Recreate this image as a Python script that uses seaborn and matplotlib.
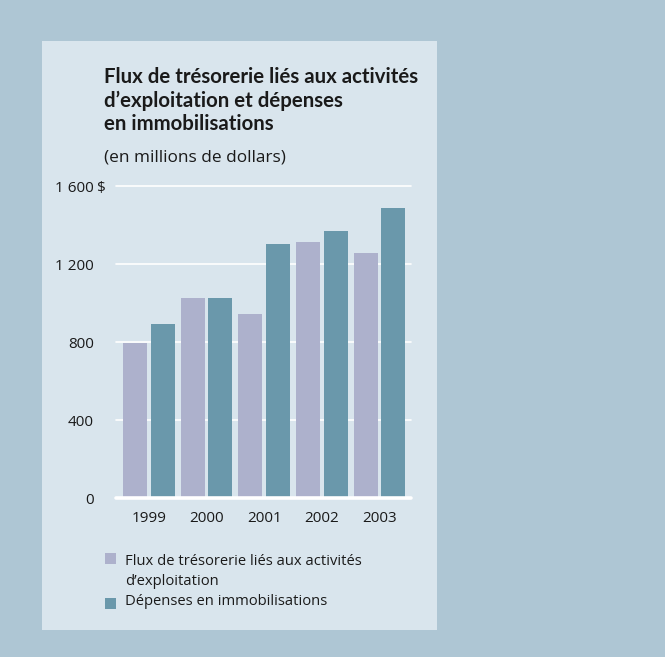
import matplotlib
matplotlib.use("Agg")
import matplotlib.pyplot as plt
from matplotlib.patches import Rectangle
import seaborn as sns
import pandas as pd

years = ["1999", "2000", "2001", "2002", "2003"]
flux_exploitation = [795, 1027, 945, 1315, 1258]
depenses_immobilisations = [895, 1027, 1304, 1372, 1485]
series_names = [
    "Flux de trésorerie liés aux activités\nd\u2019exploitation",
    "Dépenses en immobilisations",
]
y_ticks = [0, 400, 800, 1200, 1600]
y_tick_labels = ["0", "400", "800", "1 200", "1 600"]

title_lines = ["Flux de trésorerie liés aux activités",
               "d\u2019exploitation et dépenses",
               "en immobilisations"]
subtitle = "(en millions de dollars)"

outer_bg = "#aec6d4"
panel_bg = "#d9e5ed"
bar_colors = ["#adb1cc", "#6a98ab"]
text_color = "#1a1a1a"

df = pd.DataFrame({
    "Année": years * 2,
    "Série": [series_names[0]] * len(years) + [series_names[1]] * len(years),
    "Valeur": flux_exploitation + depenses_immobilisations,
})

sns.set_theme(style="white")
plt.rcParams["font.family"] = ["Open Sans", "DejaVu Sans"]

W, H = 665, 657
fig = plt.figure(figsize=(W / 100, H / 100), dpi=100)
fig.patch.set_facecolor(outer_bg)


def fy(py):
    """Pixel row (from the top) to figure fraction."""
    return 1 - py / H


# light inner panel, kept behind the axes
fig.patches.append(Rectangle((42 / W, fy(630)), 395 / W, 589 / H,
                             transform=fig.transFigure, facecolor=panel_bg,
                             edgecolor="none", zorder=-5))

ax = fig.add_axes([116 / W, fy(498.3), 295 / W, (498.3 - 186) / H])
ax.set_facecolor("none")

sns.barplot(data=df, x="Année", y="Valeur", hue="Série", order=years,
            hue_order=series_names, palette=bar_colors, width=0.96, gap=0.13,
            saturation=1, linewidth=0, edgecolor="none", ax=ax, zorder=3,
            legend=False)

ax.set_xlim(-0.573, 4.549)
ax.set_ylim(0, 1600)
ax.set_yticks(y_ticks)
ax.set_yticklabels(y_tick_labels)
ax.set_xlabel("")
ax.set_ylabel("")
for s in ax.spines.values():
    s.set_visible(False)
ax.grid(False)
for v in y_ticks[1:]:
    ax.axhline(v, color="white", lw=1.2, zorder=1, clip_on=False)
ax.axhline(0, color="white", lw=2.6, zorder=4, clip_on=False)

ax.tick_params(axis="y", length=0, pad=15.8, labelsize=11, labelcolor=text_color)
ax.tick_params(axis="x", length=0, pad=9, labelsize=11, labelcolor=text_color)

# currency sign after the top tick label
ax.annotate("$", xy=(0, 1600), xycoords=("axes fraction", "data"),
            xytext=(-13.7, -0.6), textcoords="offset points", ha="left",
            va="center_baseline", fontsize=11, color=text_color)

# title block
for i, line in enumerate(title_lines):
    fig.text(104 / W, fy(83.3 + 23.5 * i), line, ha="left", va="baseline",
             fontsize=14.7, fontweight="bold", color=text_color,
             family=["Lato", "DejaVu Sans"])
fig.text(104 / W, fy(161), subtitle, ha="left", va="baseline", fontsize=12.4,
         color=text_color)

# legend: square swatch aligned with the first line of each label
legend_rows = [(553, [565, 585]), (598, [605])]
for color, name, (sq_top, baselines) in zip(bar_colors, series_names, legend_rows):
    fig.patches.append(Rectangle((105 / W, fy(sq_top + 11)), 11 / W, 11 / H,
                                 transform=fig.transFigure, facecolor=color,
                                 edgecolor="none"))
    for text_line, base in zip(name.split("\n"), baselines):
        fig.text(125 / W, fy(base), text_line, ha="left", va="baseline",
                 fontsize=10.6, color=text_color)

fig.savefig("out.png", dpi=100, facecolor=outer_bg)
